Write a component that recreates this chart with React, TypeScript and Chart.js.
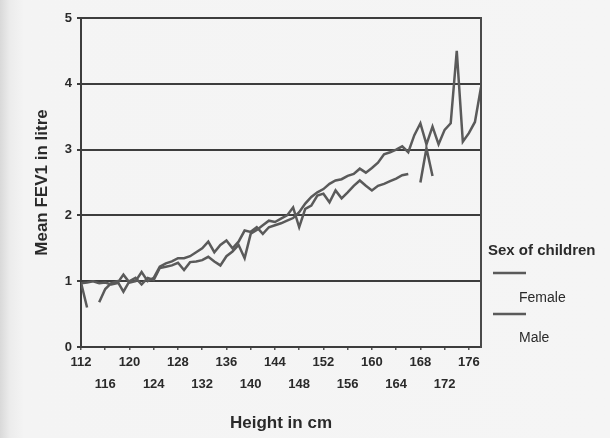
import React, { useEffect, useRef } from "react";
import { Chart, registerables } from "chart.js";

Chart.register(...registerables);

const heights: number[] = [
  112, 113, 114, 115, 116, 117, 118, 119, 120, 121, 122, 123, 124, 125, 126, 127,
  128, 129, 130, 131, 132, 133, 134, 135, 136, 137, 138, 139, 140, 141, 142, 143,
  144, 145, 146, 147, 148, 149, 150, 151, 152, 153, 154, 155, 156, 157, 158, 159,
  160, 161, 162, 163, 164, 165, 166, 167, 168, 169, 170, 171, 172, 173, 174, 175,
  176, 177, 178,
];

const femaleFEV1: (number | null)[] = [
  0.98, 0.6, null, 0.68, 0.88, 0.97, 1.0, 0.84, 1.0, 1.05, 0.95, 1.05, 1.02, 1.2, 1.22, 1.24,
  1.28, 1.17, 1.29, 1.3, 1.32, 1.37, 1.3, 1.24, 1.38, 1.45, 1.55, 1.35, 1.72, 1.78, 1.85, 1.92,
  1.9, 1.95, 2.0, 2.12, 1.82, 2.1, 2.15, 2.3, 2.33, 2.2, 2.38, 2.26, 2.35, 2.45, 2.53, 2.45,
  2.38, 2.45, 2.48, 2.52, 2.56, 2.61, 2.63, null, 2.5, 3.02, 2.6, null, null, null, null, null,
  null, null, null,
];

const maleFEV1: (number | null)[] = [
  0.97, 0.98, 1.0, 0.97, 0.98, 0.95, 0.97, 1.1, 0.98, 1.0, 1.14, 1.0, 1.05, 1.22, 1.27, 1.3,
  1.35, 1.35, 1.38, 1.44, 1.5, 1.6, 1.44, 1.55, 1.62, 1.5, 1.6, 1.77, 1.75, 1.82, 1.72, 1.82,
  1.85, 1.88, 1.92, 1.96, 2.05, 2.18, 2.28, 2.35, 2.4, 2.48, 2.53, 2.55, 2.6, 2.63, 2.71, 2.65,
  2.72, 2.8, 2.93, 2.96, 3.0, 3.05, 2.96, 3.22, 3.4, 3.08, 3.35, 3.08, 3.3, 3.4, 4.5, 3.12,
  3.25, 3.42, 3.95,
];

const seriesNames = ["Female", "Male"];
const legendTitle = "Sex of children";
const xTitle = "Height in cm";
const yTitle = "Mean FEV1 in litre";

const FONT = "'Liberation Sans', Arial, Helvetica, sans-serif";
const LINE = "#5a5a5a";
const GRID = "#3d3d3d";
const TEXT = "#2a2a2a";

const extrasPlugin = {
  id: "extras",
  afterDraw(chart: any) {
    const { ctx, chartArea } = chart;
    ctx.save();
    // right frame border
    ctx.strokeStyle = "#4a4a4a";
    ctx.lineWidth = 2;
    ctx.beginPath();
    ctx.moveTo(chartArea.right, chartArea.top - 1);
    ctx.lineTo(chartArea.right, chartArea.bottom + 1);
    ctx.stroke();

    // legend
    ctx.fillStyle = TEXT;
    ctx.textBaseline = "middle";
    ctx.textAlign = "left";
    ctx.font = `bold 15px ${FONT}`;
    ctx.fillText(legendTitle, 488, 251);

    ctx.strokeStyle = LINE;
    ctx.lineWidth = 2.5;
    const rows = [
      { lineY: 273, textY: 298 },
      { lineY: 314, textY: 338 },
    ];
    ctx.font = `14px ${FONT}`;
    rows.forEach((r, i) => {
      ctx.beginPath();
      ctx.moveTo(493, r.lineY);
      ctx.lineTo(526, r.lineY);
      ctx.stroke();
      ctx.fillText(seriesNames[i], 519, r.textY);
    });
    ctx.restore();
  },
};

export default function App() {
  const canvasRef = useRef<HTMLCanvasElement | null>(null);

  useEffect(() => {
    if (!canvasRef.current) return;
    const mk = (vals: (number | null)[]) =>
      heights.map((h, i) => ({ x: h, y: vals[i] }));
    const chart = new Chart(canvasRef.current, {
      type: "line",
      data: {
        datasets: [
          {
            label: seriesNames[0],
            data: mk(femaleFEV1) as any,
            borderColor: LINE,
            borderWidth: 2.5,
            pointRadius: 0,
            tension: 0,
            spanGaps: false,
            fill: false,
          },
          {
            label: seriesNames[1],
            data: mk(maleFEV1) as any,
            borderColor: LINE,
            borderWidth: 2.5,
            pointRadius: 0,
            tension: 0,
            spanGaps: false,
            fill: false,
          },
        ],
      },
      options: {
        animation: false,
        responsive: false,
        maintainAspectRatio: false,
        layout: { padding: { top: 18, right: 129, bottom: 0, left: 0 } },
        plugins: {
          legend: { display: false },
          tooltip: { enabled: false },
        },
        scales: {
          x: {
            type: "linear",
            min: 112,
            max: 178,
            afterFit: (s: any) => {
              s.height = 91;
            },
            grid: {
              display: true,
              drawOnChartArea: false,
              drawTicks: true,
              tickLength: 3,
              color: "#555",
              lineWidth: 1.5,
            },
            border: { display: true, color: GRID, width: 2 },
            ticks: {
              stepSize: 4,
              includeBounds: false,
              autoSkip: false,
              maxRotation: 0,
              minRotation: 0,
              padding: 1,
              color: TEXT,
              font: { family: FONT, size: 13, weight: "bold", lineHeight: 1.7 },
              callback: (value: any, index: number) =>
                index % 2 === 0 ? String(value) : ["", String(value)],
            },
            title: {
              display: true,
              text: xTitle,
              color: TEXT,
              font: { family: FONT, size: 17, weight: "bold" },
              padding: { top: 0, bottom: 4 },
            },
          },
          y: {
            type: "linear",
            min: 0,
            max: 5,
            afterFit: (s: any) => {
              s.width = 81;
            },
            grid: {
              display: true,
              drawOnChartArea: true,
              drawTicks: true,
              tickLength: 4,
              color: GRID,
              lineWidth: 2,
            },
            border: { display: true, color: GRID, width: 2 },
            ticks: {
              stepSize: 1,
              padding: 5,
              color: TEXT,
              font: { family: FONT, size: 13, weight: "bold" },
            },
            title: {
              display: true,
              text: yTitle,
              color: TEXT,
              font: { family: FONT, size: 17, weight: "bold" },
              padding: { top: 32, bottom: 0 },
            },
          },
        },
      } as any,
      plugins: [extrasPlugin],
    });
    return () => chart.destroy();
  }, []);

  return (
    <div
      style={{
        position: "fixed",
        left: 0,
        top: 0,
        width: 610,
        height: 438,
        background:
          "linear-gradient(to right, #d9d9d9 0px, #ececec 10px, #f4f4f4 24px, #f5f5f5 100%)",
      }}
    >
      <canvas ref={canvasRef} width={610} height={438} style={{ display: "block" }} />
    </div>
  );
}
